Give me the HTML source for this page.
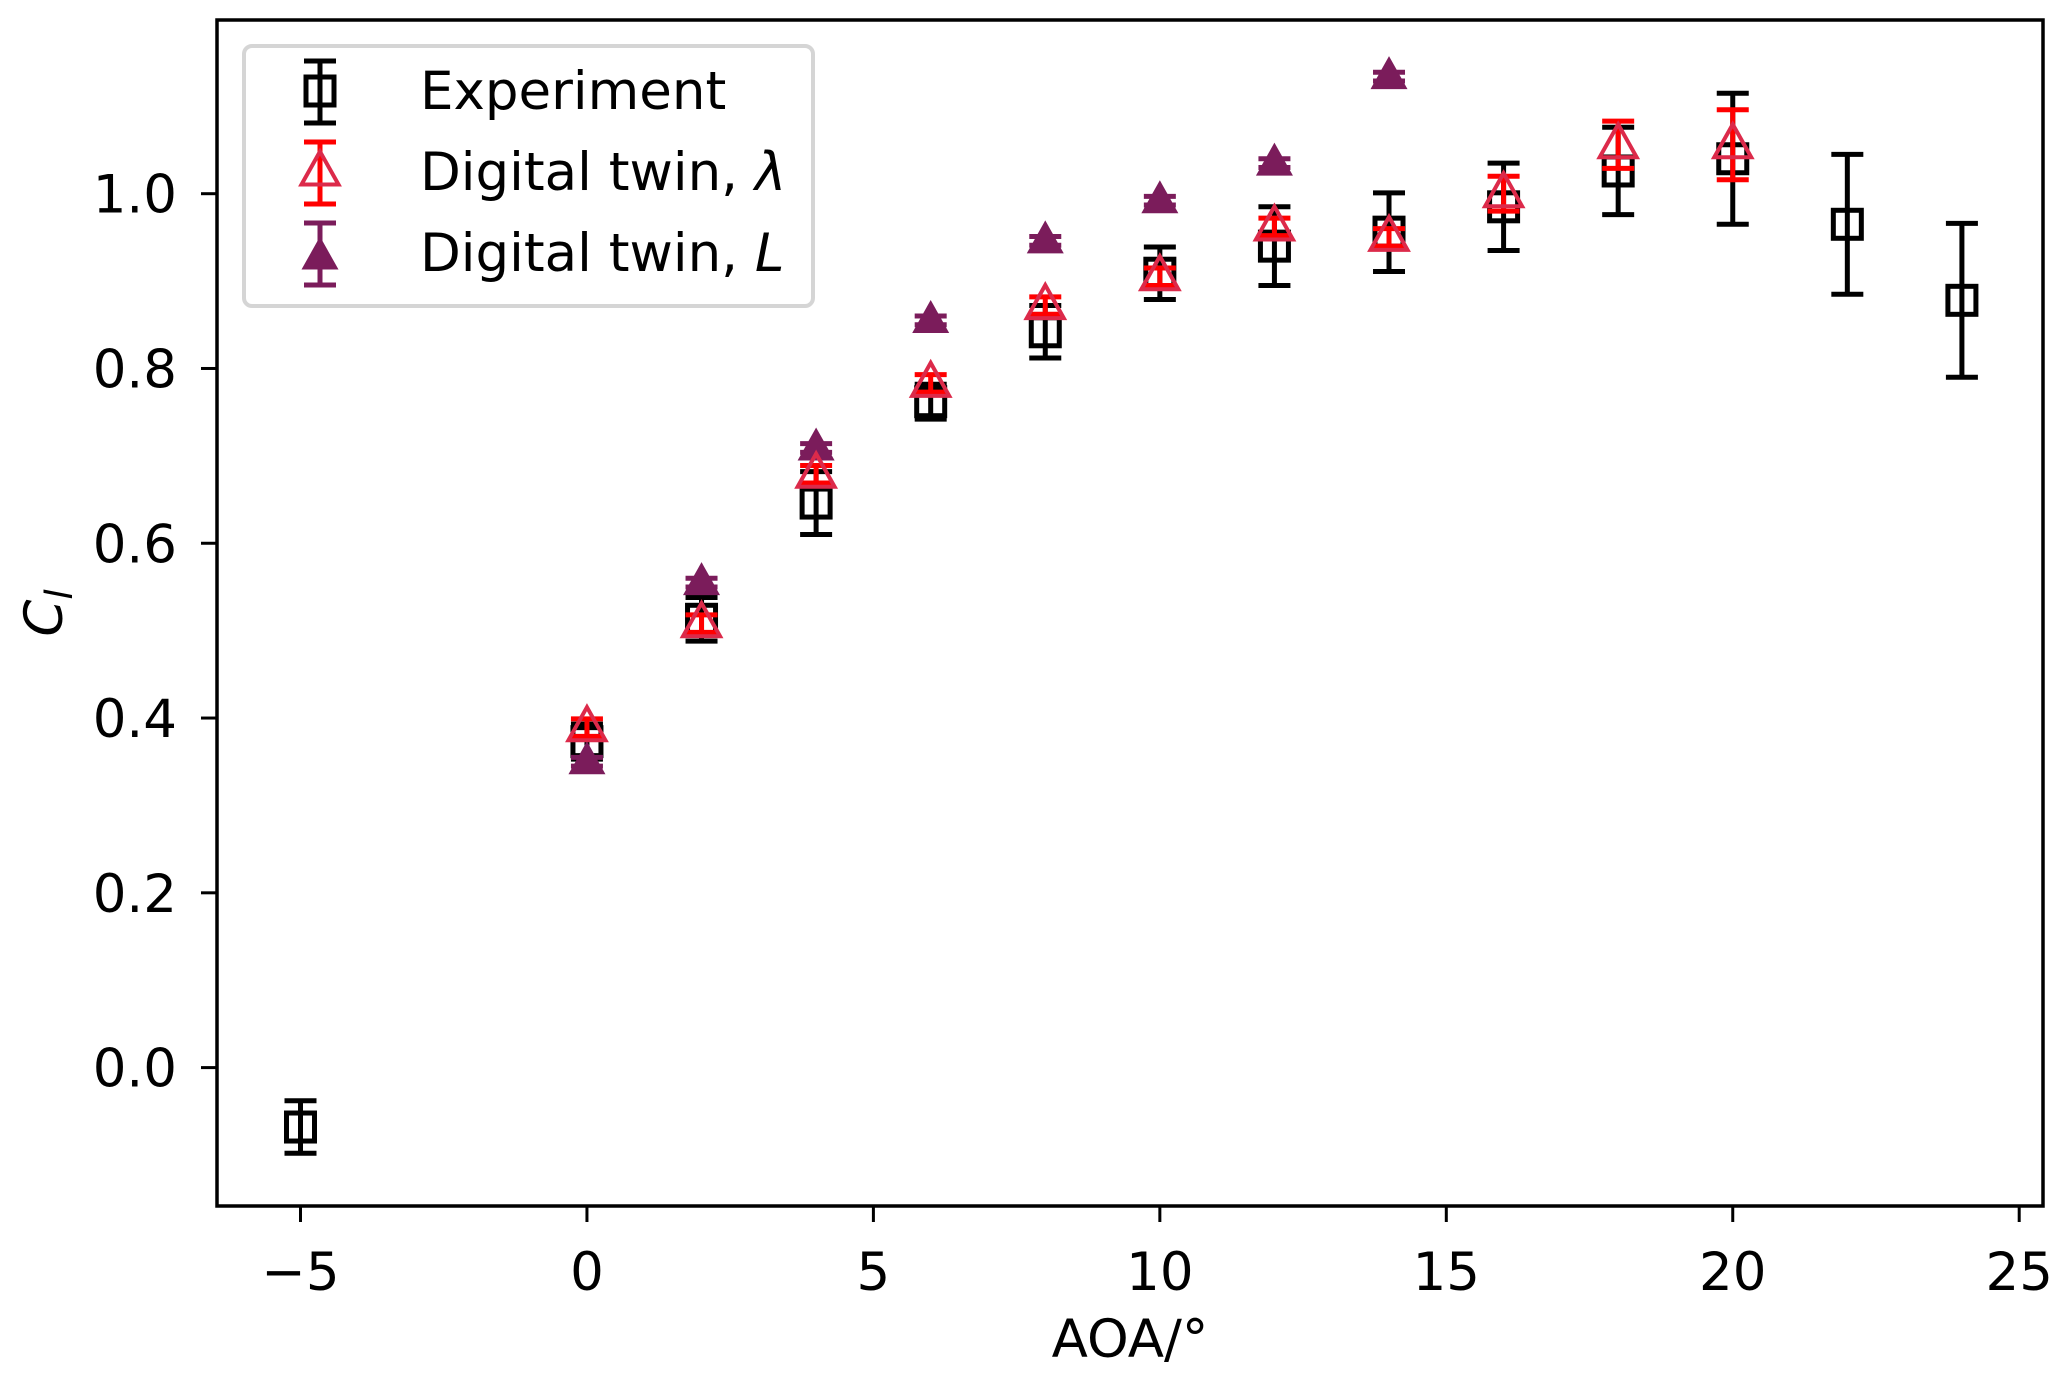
<!DOCTYPE html>
<html><head><meta charset="utf-8"><style>
html,body{margin:0;padding:0;background:#fff;}
svg text{font-family:"DejaVu Sans","Liberation Sans",sans-serif;fill:#000;}
</style></head><body>
<svg id="chart" width="2067" height="1384" xmlns="http://www.w3.org/2000/svg">
<rect width="2067" height="1384" fill="#fff"/>
<g id="marks"></g>
<g id="axes"></g>
<g id="legend"></g>
</svg>
<script>
const expX = [-5, 0, 2, 4, 6, 8, 10, 12, 14, 16, 18, 20, 22, 24];
const expY = [-0.068, 0.373, 0.513, 0.646, 0.762, 0.842, 0.909, 0.94, 0.956, 0.985, 1.026, 1.04, 0.965, 0.878];
const expErr = [0.03, 0.02, 0.025, 0.036, 0.02, 0.03, 0.03, 0.045, 0.045, 0.05, 0.05, 0.075, 0.08, 0.088];
const lamX = [0, 2, 4, 6, 8, 10, 12, 14, 16, 18, 20];
const lamY = [0.389, 0.508, 0.679, 0.783, 0.872, 0.905, 0.962, 0.95, 1.0, 1.056, 1.056];
const lamErr = [0.01, 0.01, 0.01, 0.01, 0.01, 0.01, 0.01, 0.01, 0.02, 0.027, 0.04];
const lX = [0, 2, 4, 6, 8, 10, 12, 14];
const lY = [0.35, 0.555, 0.709, 0.855, 0.946, 0.992, 1.035, 1.134];
const lErr = [0.005, 0.005, 0.005, 0.005, 0.005, 0.005, 0.005, 0.005];
const xTicks = [-5, 0, 5, 10, 15, 20, 25];
const yTicks = [0.0, 0.2, 0.4, 0.6, 0.8, 1.0];

const L=217, R=2043, T=20, B=1206;
function sx(v){return 300.5 + (v + 5) * (2019.2 - 300.5) / 30;}
function sy(v){return 1067.6 - v * (1067.6 - 193.7);}
const NS='http://www.w3.org/2000/svg';
function mk(tag, attrs, parent){const e=document.createElementNS(NS,tag);for(const k in attrs)e.setAttribute(k,attrs[k]);parent.appendChild(e);return e;}
const marks=document.getElementById('marks'), axes=document.getElementById('axes'), leg=document.getElementById('legend');

function errbarPx(g, px, y1, y2, color){
  mk('line',{x1:px,y1:y1,x2:px,y2:y2,stroke:color,'stroke-width':5},g);
  mk('line',{x1:px-16,y1:y1,x2:px+16,y2:y1,stroke:color,'stroke-width':5},g);
  mk('line',{x1:px-16,y1:y2,x2:px+16,y2:y2,stroke:color,'stroke-width':5},g);
}
function errbar(g, x, y, e, color){ errbarPx(g, sx(x), sy(y+e), sy(y-e), color); }
function tri(g, cx, cy, fill, stroke){
  const h=33, w=37;
  return mk('polygon',{points:`${cx},${cy-h*0.62} ${cx-w/2},${cy+h*0.38} ${cx+w/2},${cy+h*0.38}`,fill:fill,stroke:stroke,'stroke-width':stroke==='none'?0:4},g);
}
for(let i=0;i<expX.length;i++){
  const g=mk('g',{},marks);
  
  
  errbar(g, expX[i], expY[i], expErr[i], '#000');
  mk('rect',{x:sx(expX[i])-14,y:sy(expY[i])-14,width:28,height:28,fill:'none',stroke:'#000','stroke-width':5},g);
}
for(let i=0;i<lX.length;i++){
  const g=mk('g',{},marks);
  
  
  errbar(g, lX[i], lY[i], lErr[i], '#7b1c5b');
  tri(g, sx(lX[i]), sy(lY[i]), '#7b1c5b', 'none');
}
for(let i=0;i<lamX.length;i++){
  const g=mk('g',{},marks);
  
  
  errbar(g, lamX[i], lamY[i], lamErr[i], '#ff0000');
  tri(g, sx(lamX[i]), sy(lamY[i]), 'none', '#dc2a4a');
}
const frame=mk('rect',{x:L,y:T,width:R-L,height:B-T,fill:'none',stroke:'#000','stroke-width':3.5},axes);


for(const t of xTicks){
  const px=sx(t);
  mk('line',{x1:px,y1:B,x2:px,y2:B+16,stroke:'#000','stroke-width':3},axes);
  const tx=mk('text',{x:px,y:1290,'text-anchor':'middle','font-size':53},axes);
  
  
  tx.textContent=t<0?'\u2212'+(-t):String(t);
}
for(const t of yTicks){
  const py=sy(t);
  mk('line',{x1:L,y1:py,x2:L-16,y2:py,stroke:'#000','stroke-width':3},axes);
  const tx=mk('text',{x:177,y:py+19,'text-anchor':'end','font-size':53},axes);
  
  
  tx.textContent=t.toFixed(1);
}
const xt=mk('text',{x:(L+R)/2,y:1357,'text-anchor':'middle','font-size':53},axes);


xt.textContent='AOA/°';
const yt=mk('text',{x:0,y:0,'text-anchor':'middle','font-size':53,'font-style':'italic',transform:'translate(62,613) rotate(-90)'},axes);


yt.innerHTML='C<tspan font-size="37" dy="10">l</tspan>';
mk('rect',{x:244,y:46,width:569,height:260,rx:8,fill:'#fff','fill-opacity':0.8,stroke:'#d5d5d5','stroke-width':4},leg);
const items=['exp','lam','L'];
const mx=320;
items.forEach((it,i)=>{
  const cy=91+i*81;
  const g=mk('g',{},leg);
  
  
  const col = it==='exp' ? '#000' : (it==='lam' ? '#ff0000' : '#7b1c5b');
  errbarPx(g, mx, cy-30, cy+32, col);
  if(it==='exp') mk('rect',{x:mx-14,y:cy-14,width:28,height:28,fill:'none',stroke:'#000','stroke-width':5},g);
  else if(it==='lam') tri(g,mx,cy,'none','#dc2a4a');
  else tri(g,mx,cy+4,'#7b1c5b','none');
  const t=mk('text',{x:420,y:cy+18,'font-size':53},g);
  if(it==='exp') t.textContent='Experiment';
  else t.innerHTML='Digital twin, <tspan font-style="italic">'+(it==='lam'?'λ':'L')+'</tspan>';
});
</script>
</body></html>
